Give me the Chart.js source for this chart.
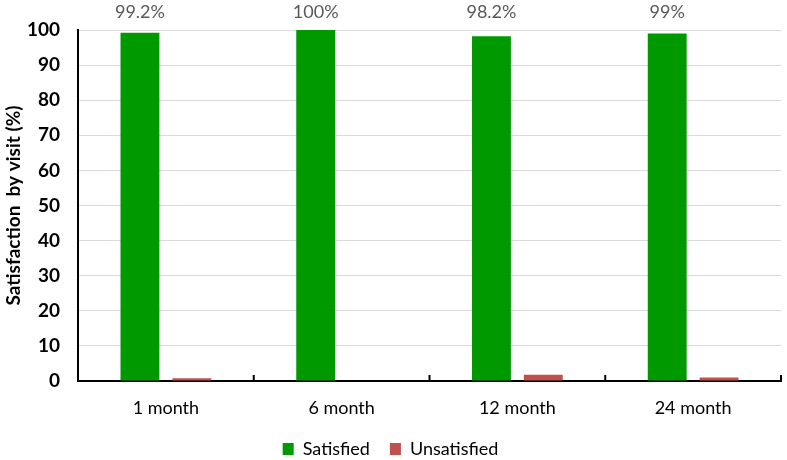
<!DOCTYPE html>
<html><head><meta charset="utf-8">
<script src="https://cdn.jsdelivr.net/npm/chart.js@4.4.0/dist/chart.umd.min.js"></script>
<style>html,body{margin:0;padding:0;background:#fff;}#wrap{width:787px;height:460px;}</style>
</head><body><div id="wrap"><canvas id="c"></canvas></div>
<script>
const categories = ['1 month', '6 month', '12 month', '24 month'];
const satisfied = [99.2, 100, 98.2, 99];
const unsatisfied = [0.8, 0, 1.8, 1];
const satisfiedLabels = ['99.2%', '100%', '98.2%', '99%'];
const yTicks = [0, 10, 20, 30, 40, 50, 60, 70, 80, 90, 100];

const FONT = 'Lato, "Open Sans", sans-serif';

const labelPlugin = {
  id: 'labels',
  afterDatasetsDraw(chart) {
    const ctx = chart.ctx;
    const meta = chart.getDatasetMeta(0);
    ctx.save();
    ctx.fillStyle = '#595959';
    ctx.font = '18px ' + FONT;
    ctx.textAlign = 'center';
    ctx.textBaseline = 'middle';
    meta.data.forEach((bar, i) => {
      ctx.fillText(satisfiedLabels[i], bar.x, chart.chartArea.top - 18);
    });
    ctx.restore();
  }
};

const tickPlugin = {
  id: 'upticks',
  afterDraw(chart) {
    const ctx = chart.ctx;
    const xs = chart.scales.x;
    const y = chart.chartArea.bottom;
    ctx.save();
    ctx.strokeStyle = '#000';
    ctx.lineWidth = 2;
    for (let i = 0; i <= categories.length; i++) {
      const px = xs.getPixelForValue(i - 0.5);
      ctx.beginPath();
      ctx.moveTo(px, y);
      ctx.lineTo(px, y - 6);
      ctx.stroke();
    }
    ctx.restore();
  }
};

const legendHeightPlugin = {
  id: 'legendHeight',
  afterInit(chart) {
    const lg = chart.legend;
    if (!lg) return;
    const f = lg.fit.bind(lg);
    lg.fit = function () { f(); this.height = 40; };
  }
};

new Chart(document.getElementById('c'), {
  type: 'bar',
  data: {
    labels: categories,
    datasets: [
      { label: 'Satisfied', data: satisfied, backgroundColor: '#009900', borderWidth: 0,
        categoryPercentage: 0.59, barPercentage: 0.75 },
      { label: 'Unsatisfied', data: unsatisfied, backgroundColor: '#c0504d', borderWidth: 0,
        categoryPercentage: 0.59, barPercentage: 0.75 }
    ]
  },
  options: {
    responsive: true,
    maintainAspectRatio: false,
    animation: false,
    layout: { padding: { top: 30, right: 6, left: 0, bottom: 0 } },
    plugins: {
      tooltip: { enabled: false },
      legend: {
        position: 'bottom',
        labels: { boxWidth: 11, boxHeight: 12, color: '#000', font: { size: 18, family: FONT }, padding: 20 }
      }
    },
    scales: {
      x: {
        afterFit(scale) { scale.height = 39; },
        grid: { display: false, drawTicks: false },
        border: { display: true, color: '#000', width: 2 },
        ticks: { color: '#000', font: { size: 18, family: FONT }, padding: 16 }
      },
      y: {
        min: 0, max: 100,
        afterFit(scale) { scale.width = 78; },
        afterBuildTicks(scale) { scale.ticks = yTicks.map(v => ({ value: v })); },
        grid: { color: '#d9d9d9', drawTicks: false, lineWidth: 1 },
        border: { display: true, color: '#000', width: 2 },
        ticks: { color: '#000', font: { size: 19, family: FONT, weight: 'bold' }, padding: 18 },
        title: { display: true, text: 'Satisfaction  by visit (%)', color: '#000', font: { size: 19, family: FONT, weight: 'bold', lineHeight: 1 }, padding: { top: 4, bottom: 0 } }
      }
    }
  },
  plugins: [labelPlugin, tickPlugin, legendHeightPlugin]
});
</script></body></html>
